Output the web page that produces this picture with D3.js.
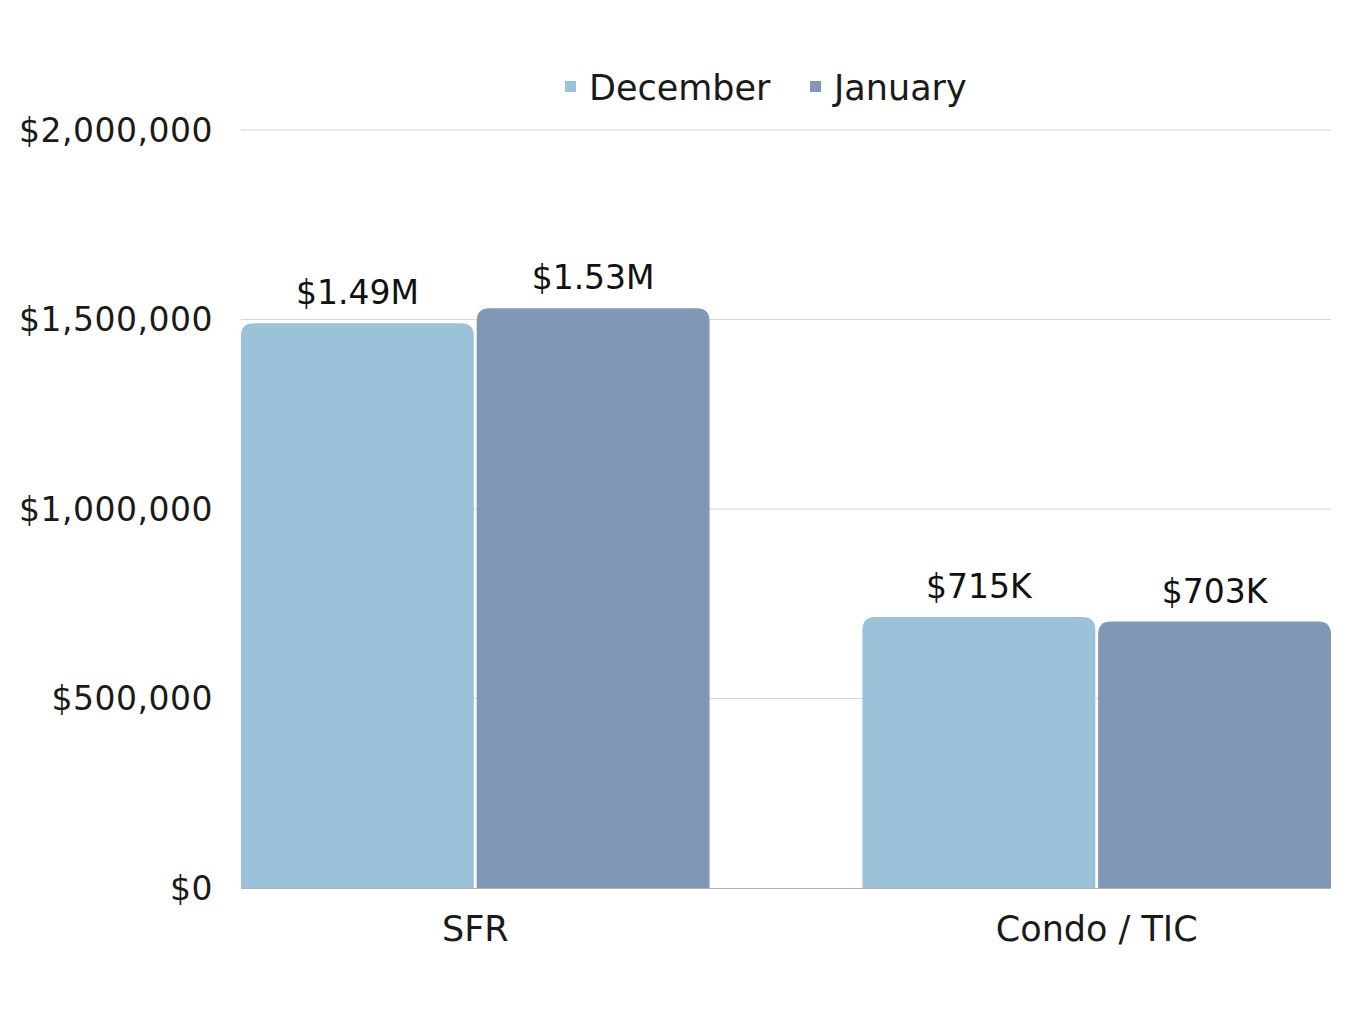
<!DOCTYPE html>
<html>
  <head>
    <meta charset="utf-8" />
    <script src="https://cdn.jsdelivr.net/npm/d3@7/dist/d3.min.js"></script>
    <style>
      body { margin: 0; background: #fff; }
      text { font-family: "DejaVu Sans", sans-serif; }
    </style>
  </head>
  <body>
    <div id="chart"></div>
    <script>
      const categories = ["SFR", "Condo / TIC"];
      const seriesNames = ["December", "January"];
      const december = [1490000, 715000];
      const january = [1530000, 703000];
      const valueLabels = [["$1.49M", "$715K"], ["$1.53M", "$703K"]];
      const yTicks = [0, 500000, 1000000, 1500000, 2000000];

      const colors = ["#9bc2d8", "#7f98b5"];
      const w = 1350, h = 1013;
      const plotLeft = 241, plotRight = 1331, plotTop = 130, plotBottom = 888;

      const svg = d3.select("#chart").append("svg")
        .attr("width", w).attr("height", h);

      const x = d3.scaleBand().domain(categories)
        .range([plotLeft, plotRight]).paddingInner(0.246).paddingOuter(0);
      const xs = d3.scaleBand().domain(seriesNames)
        .range([0, x.bandwidth()]).paddingInner(0.012);
      const y = d3.scaleLinear().domain([0, 2000000]).range([plotBottom, plotTop]);

      // grid
      svg.append("g").selectAll("line").data(yTicks.slice(1)).enter()
        .append("line")
        .attr("x1", plotLeft).attr("x2", plotRight)
        .attr("y1", d => y(d)).attr("y2", d => y(d))
        .attr("stroke", "#d6d6d6").attr("stroke-width", 1);

      // y tick labels
      svg.append("g").selectAll("text").data(yTicks).enter()
        .append("text")
        .attr("x", 213).attr("y", d => y(d))
        .attr("dy", "0.36em")
        .attr("text-anchor", "end")
        .attr("font-size", 33)
        .attr("letter-spacing", 0.5)
        .attr("fill", "#1a1a1a")
        .text(d => "$" + d3.format(",")(d));

      const series = [december, january];
      const r = 13;
      const barPath = (x0, bw, yTop) => {
        const rr = Math.min(r, (plotBottom - yTop));
        return `M${x0},${plotBottom}V${yTop + rr}Q${x0},${yTop} ${x0 + rr},${yTop}` +
          `H${x0 + bw - rr}Q${x0 + bw},${yTop} ${x0 + bw},${yTop + rr}V${plotBottom}Z`;
      };

      series.forEach((vals, si) => {
        const g = svg.append("g");
        g.selectAll("path").data(vals).enter().append("path")
          .attr("d", (d, i) => barPath(x(categories[i]) + xs(seriesNames[si]), xs.bandwidth(), y(d)))
          .attr("fill", colors[si]);
        g.selectAll("text").data(vals).enter().append("text")
          .attr("x", (d, i) => x(categories[i]) + xs(seriesNames[si]) + xs.bandwidth() / 2)
          .attr("y", d => y(d) - 19)
          .attr("text-anchor", "middle")
          .attr("font-size", 33)
          .attr("fill", "#111")
          .text((d, i) => valueLabels[si][i]);
      });

      // baseline
      svg.append("line")
        .attr("x1", plotLeft).attr("x2", plotRight)
        .attr("y1", plotBottom + 0.5).attr("y2", plotBottom + 0.5)
        .attr("stroke", "#b3b3b3").attr("stroke-width", 1);

      // category labels
      svg.append("g").selectAll("text").data(categories).enter()
        .append("text")
        .attr("x", d => x(d) + x.bandwidth() / 2)
        .attr("y", 941)
        .attr("text-anchor", "middle")
        .attr("font-size", 35)
        .attr("fill", "#1a1a1a")
        .text(d => d);

      // legend
      const legendX = [565, 810];
      const legend = svg.append("g");
      seriesNames.forEach((name, i) => {
        legend.append("rect")
          .attr("x", legendX[i]).attr("y", 81)
          .attr("width", 11).attr("height", 11)
          .attr("fill", colors[i]);
        legend.append("text")
          .attr("x", legendX[i] + 24).attr("y", 100)
          .attr("font-size", 35)
          .attr("fill", "#1a1a1a")
          .text(name);
      });
    </script>
  </body>
</html>
